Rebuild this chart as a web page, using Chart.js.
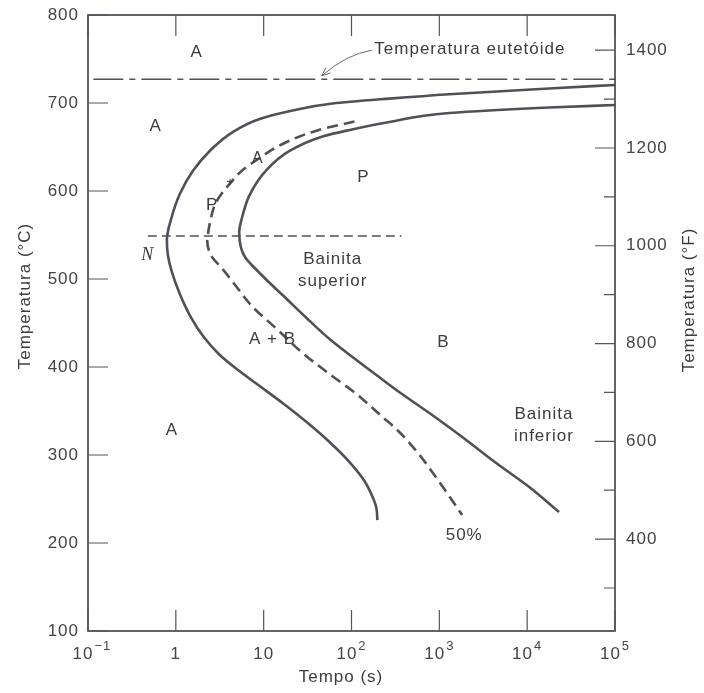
<!DOCTYPE html>
<html>
<head>
<meta charset="utf-8">
<script src="https://cdn.jsdelivr.net/npm/chart.js@4.4.1/dist/chart.umd.min.js"></script>
<style>
  html, body { margin: 0; padding: 0; background: #fff; }
</style>
</head>
<body>
<canvas id="ttt" width="704" height="693"></canvas>
<script>
// ---- data: [tempo (s), temperatura (°C)] ----
const eutectoidLine = [[0.115, 727], [1e5, 727]];
const noseLine = [[0.48, 549], [370, 549]];

// start of transformation (left solid curve)
const startCurve = [
  [1e5, 720.5], [17800, 716.5], [1300, 710], [270, 705], [60.8, 699.4], [21.4, 691.5],
  [9.0, 681.8], [4.44, 667], [2.43, 645.5], [1.56, 622.7], [1.11, 596.6], [0.877, 567],
  [0.791, 544.3], [0.811, 527.3], [0.901, 508], [1.11, 483], [1.48, 456.8], [2.08, 434],
  [3.08, 414.8], [4.93, 397.7], [9.0, 378.4], [16.4, 359.1], [30.8, 337.5], [56.2, 314.8],
  [94.9, 292], [140.5, 270.5], [177.8, 250], [192, 239.8], [197, 226]
];
// 50 % transformed (dashed curve)
const halfCurve = [
  [108, 679], [40, 668.6], [16.4, 653.4], [9.0, 637.5], [5.77, 623.9], [4.33, 610.8],
  [3.33, 597.2], [2.77, 584.1], [2.5, 568.2], [2.34, 553.4], [2.28, 543.2], [2.37, 533],
  [2.63, 523.9], [3.33, 512.5], [4.93, 490.9], [7.5, 468.2], [14.1, 443.2], [27.7, 415.9],
  [56.2, 392], [114, 369.3], [225, 343.2], [324, 329.5], [548, 304.5], [1000, 269.3], [1820, 231.8]
];
// end of transformation (right solid curve)
const endCurve = [
  [1e5, 697.7], [17800, 694.9], [1300, 688.6], [270, 678.4], [94.9, 669.3], [46.8, 661.9],
  [19.7, 645.5], [10.8, 623.9], [6.93, 595.5], [5.62, 568.2], [5.27, 553.4], [5.34, 543.2],
  [5.62, 533], [6.24, 523.9], [7.31, 515.9], [8.77, 508], [11.1, 497.7], [16.4, 481.8],
  [30.8, 455.7], [56.2, 431.8], [102.6, 411.4], [192, 390.9], [324, 373.9], [769, 347.7],
  [1820, 320.5], [4440, 290.9], [10550, 263.6], [23100, 235.2]
];

// ---- axes ----
const xTickExp = [-1, 0, 1, 2, 3, 4, 5];
const yTicksC = [100, 200, 300, 400, 500, 600, 700, 800];
const yTicksF = [300, 400, 500, 600, 700, 800, 900, 1000, 1100, 1200, 1300, 1400];
const yLabelsF = [400, 600, 800, 1000, 1200, 1400];

// ---- text in the plot (data coordinates) ----
const regionLabels = [
  { text: 'A', t: 1.73, T: 758 },
  { text: 'A', t: 0.59, T: 673 },
  { text: 'A', t: 8.6, T: 637, size: 16 },
  { text: '+', t: 4.2, T: 610, size: 13 },
  { text: 'P', t: 2.6, T: 584 },
  { text: 'P', t: 137, T: 615 },
  { text: 'N', t: 0.48, T: 527, serif: true },
  { text: 'Bainita', t: 61, T: 522 },
  { text: 'superior', t: 61, T: 497 },
  { text: 'A + B', t: 12.6, T: 431 },
  { text: 'B', t: 1110, T: 428 },
  { text: 'A', t: 0.9, T: 328 },
  { text: 'Bainita', t: 15500, T: 346 },
  { text: 'inferior', t: 15500, T: 321 },
  { text: '50%', t: 1920, T: 209 }
];

const ink = '#505058';
const textInk = '#3c3c3c';
const sans = '"Liberation Sans", Arial, sans-serif';

function pts(a){ return a.map(p => ({ x: p[0], y: p[1] })); }
// curves are single-valued in temperature, so they are splined along the y (index) axis
function curve(a, dash, width){
  return { data: pts(a), borderColor: ink, borderWidth: width, borderDash: dash,
    pointRadius: 0, cubicInterpolationMode: 'monotone', fill: false, borderCapStyle: 'butt' };
}
function straight(a, dash, width){
  return { data: pts(a), borderColor: ink, borderWidth: width, borderDash: dash,
    pointRadius: 0, tension: 0, fill: false, borderCapStyle: 'butt' };
}
function noPad(s){ s.paddingTop = 0; s.paddingBottom = 0; }

const decor = {
  id: 'decor',
  beforeDraw(chart){ chart.ctx.letterSpacing = '1px'; },
  afterDatasetsDraw(chart){
    const c = chart.ctx, a = chart.chartArea;
    const x = chart.scales.x, y = chart.scales.y, yF = chart.scales.y2;
    c.save();
    c.letterSpacing = '1px';
    // frame
    c.strokeStyle = '#3d3d45'; c.lineWidth = 1.6;
    c.strokeRect(a.left, a.top, a.right - a.left, a.bottom - a.top);
    // inward ticks
    c.lineWidth = 1.2; c.strokeStyle = '#55555e';
    c.beginPath();
    yTicksC.forEach(v => { const py = y.getPixelForValue(v); c.moveTo(a.left, py); c.lineTo(a.left + 20, py); });
    yTicksF.forEach(v => { const py = yF.getPixelForValue(v); const len = v % 200 === 0 ? 20 : 11;
      c.moveTo(a.right, py); c.lineTo(a.right - len, py); });
    xTickExp.forEach(e => { const px = x.getPixelForValue(Math.pow(10, e));
      c.moveTo(px, a.bottom); c.lineTo(px, a.bottom - 21);
      c.moveTo(px, a.top); c.lineTo(px, a.top + 21); });
    c.stroke();
    // x tick labels with superscripts
    c.fillStyle = '#444'; c.textBaseline = 'alphabetic'; c.textAlign = 'left';
    xTickExp.forEach(e => {
      const px = x.getPixelForValue(Math.pow(10, e));
      const base = e === 0 ? '1' : '10';
      const sup = (e === 0 || e === 1) ? '' : String(e).replace('-', '\u2212');
      c.font = '17px ' + sans; const wb = c.measureText(base).width;
      c.font = '13px ' + sans; const ws = sup ? c.measureText(sup).width + 1 : 0;
      let left = px - (wb + ws) / 2;
      if (e === -1) left = px - wb / 2 - 5;
      c.font = '17px ' + sans; c.fillText(base, left, 659);
      if (sup) { c.font = '13px ' + sans; c.fillText(sup, left + wb + 1, 650); }
    });
    // axis titles
    c.fillStyle = textInk; c.font = '17px ' + sans; c.textAlign = 'center'; c.textBaseline = 'middle';
    c.fillText('Tempo (s)', 341, 677);
    c.save(); c.translate(25, 296); c.rotate(-Math.PI / 2); c.fillText('Temperatura (°C)', 0, 0); c.restore();
    c.save(); c.translate(689, 300); c.rotate(-Math.PI / 2); c.fillText('Temperatura (°F)', 0, 0); c.restore();
    // region labels
    regionLabels.forEach(l => {
      c.font = l.serif ? 'italic 18px "Liberation Serif", serif' : (l.size || 17) + 'px ' + sans;
      c.fillText(l.text, x.getPixelForValue(l.t), y.getPixelForValue(l.T));
    });
    // eutectoid label and arrow
    c.textAlign = 'left'; c.font = '17px ' + sans;
    c.fillText('Temperatura eutetóide', x.getPixelForValue(182), y.getPixelForValue(761));
    const ax0 = x.getPixelForValue(170), ay0 = y.getPixelForValue(760);
    const ax1 = x.getPixelForValue(46), ay1 = y.getPixelForValue(731);
    c.strokeStyle = '#6a6a72'; c.lineWidth = 1;
    c.beginPath(); c.moveTo(ax0, ay0);
    c.quadraticCurveTo((ax0 + ax1) / 2, ay0 + 4, ax1, ay1); c.stroke();
    const ang = Math.atan2(ay1 - (ay0 + 4), ax1 - (ax0 + ax1) / 2);
    c.beginPath();
    c.moveTo(ax1 - 9 * Math.cos(ang - 0.4), ay1 - 9 * Math.sin(ang - 0.4));
    c.lineTo(ax1, ay1);
    c.lineTo(ax1 - 9 * Math.cos(ang + 0.4), ay1 - 9 * Math.sin(ang + 0.4));
    c.stroke();
    c.restore();
  }
};

new Chart(document.getElementById('ttt'), {
  type: 'line',
  data: { datasets: [
    straight(eutectoidLine, [30, 6, 6, 6], 1.6),
    straight(noseLine, [9, 5], 1.5),
    curve(startCurve, [], 2.6),
    curve(halfCurve, [11, 6], 2.6),
    curve(endCurve, [], 2.6)
  ] },
  options: {
    indexAxis: 'y',
    responsive: false,
    animation: false,
    layout: { padding: { top: 15 } },
    plugins: { legend: { display: false }, tooltip: { enabled: false } },
    scales: {
      x: {
        type: 'logarithmic', min: 0.1, max: 1e5,
        afterBuildTicks: s => { s.ticks = xTickExp.map(e => ({ value: Math.pow(10, e) })); },
        ticks: { display: false },
        grid: { display: false }, border: { display: false },
        afterFit: s => { s.height = 62; s.paddingLeft = 0; s.paddingRight = 0; }
      },
      y: {
        type: 'linear', position: 'left', min: 100, max: 800,
        afterBuildTicks: s => { s.ticks = yTicksC.map(v => ({ value: v })); },
        ticks: { color: '#444', font: { family: sans, size: 17 }, padding: 9 },
        grid: { display: false, drawTicks: false }, border: { display: false },
        afterFit: s => { s.width = 88; noPad(s); }
      },
      y2: {
        type: 'linear', position: 'right', min: 212, max: 1472,
        afterBuildTicks: s => { s.ticks = yTicksF.map(v => ({ value: v })); },
        ticks: { color: '#444', font: { family: sans, size: 17 }, padding: 11,
          callback: v => yLabelsF.includes(v) ? String(v) : '' },
        grid: { display: false, drawTicks: false }, border: { display: false },
        afterFit: s => { s.width = 89; noPad(s); }
      }
    }
  },
  plugins: [decor]
});
</script>
</body>
</html>
